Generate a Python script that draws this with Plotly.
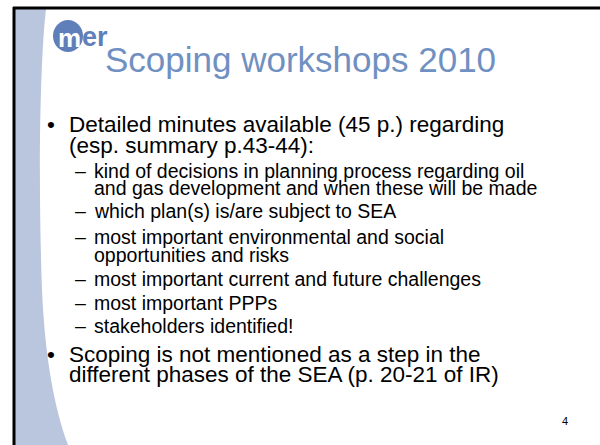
import plotly.graph_objects as go

# ---- slide content (data) ----
title_text = "Scoping workshops 2010"
logo_letters = ["m", "er"]
bullet1_lines = ["Detailed minutes available (45 p.) regarding",
                 "(esp. summary p.43-44):"]
sub_items = [
    ["kind of decisions in planning process regarding oil",
     "and gas development and when these will be made"],
    ["which plan(s) is/are subject to SEA"],
    ["most important environmental and social",
     "opportunities and risks"],
    ["most important current and future challenges"],
    ["most important PPPs"],
    ["stakeholders identified!"],
]
bullet2_lines = ["Scoping is not mentioned as a step in the",
                 "different phases of the SEA (p. 20-21 of IR)"]
page_number = "4"

# ---- layout (positions in pixel space) ----
W, H = 600, 445
FONT = "Arial, 'Liberation Sans', Helvetica, sans-serif"
TITLE_COLOR = "#7090c2"
LOGO_COLOR = "#5f7fba"
BAND_COLOR = "#b9c6dd"

title_size, body_size, sub_size = 35, 22.5, 19.5
bullet1_base = [132, 153]
sub_base = [[178, 195], [218], [244, 262], [286], [310], [333]]
bullet2_base = [362, 382]

fig = go.Figure()
annotations = []

def add_text(txt, x, baseline, size, color="#000000", bold=False):
    center = baseline - 0.35 * size
    t = f"<b>{txt}</b>" if bold else txt
    annotations.append(dict(x=x, y=center, xref="x", yref="y", text=t,
                            showarrow=False, xanchor="left", yanchor="middle",
                            font=dict(family=FONT, size=size, color=color),
                            borderpad=0))

# title
add_text(title_text, 104, 72, title_size, TITLE_COLOR)

# bullet 1
add_text("•", 46, bullet1_base[0], body_size)
for line, b in zip(bullet1_lines, bullet1_base):
    add_text(line, 68, b, body_size)

# sub items
for lines, bases in zip(sub_items, sub_base):
    add_text("–", 74, bases[0], sub_size)
    for line, b in zip(lines, bases):
        add_text(line, 93, b, sub_size)

# bullet 2
add_text("•", 46, bullet2_base[0], body_size)
for line, b in zip(bullet2_lines, bullet2_base):
    add_text(line, 68, b, body_size)

# page number
add_text(page_number, 561, 425, 11)

# logo letters
add_text(logo_letters[0], 57, 47, 26, "#ffffff", bold=True)
add_text(logo_letters[1], 81, 46, 27, LOGO_COLOR, bold=True)

shapes = [
    # left decorative band
    dict(type="path", xref="x", yref="y",
         path="M 15 9 L 46 9 C 40 60, 38 180, 42 290 C 45 360, 55 410, 68 445 L 15 445 Z",
         fillcolor=BAND_COLOR, line=dict(width=0), layer="below"),
    # logo circle
    dict(type="circle", xref="x", yref="y", x0=53, y0=20, x1=83, y1=52,
         fillcolor=LOGO_COLOR, line=dict(width=0), layer="below"),
    # frame lines
    dict(type="line", xref="x", yref="y", x0=13, y0=8, x1=600, y1=8,
         line=dict(color="#000000", width=3)),
    dict(type="line", xref="x", yref="y", x0=14, y0=7, x1=14, y1=445,
         line=dict(color="#000000", width=3)),
]

fig.update_layout(
    width=W, height=H,
    margin=dict(l=0, r=0, t=0, b=0),
    paper_bgcolor="#ffffff", plot_bgcolor="#ffffff",
    xaxis=dict(range=[0, W], visible=False, fixedrange=True),
    yaxis=dict(range=[H, 0], visible=False, fixedrange=True),
    shapes=shapes, annotations=annotations, showlegend=False,
)

fig.write_html(
    "out.html",
    config={"displayModeBar": False},
    post_script="document.body.style.margin='0px';document.body.style.overflow='hidden';",
)
